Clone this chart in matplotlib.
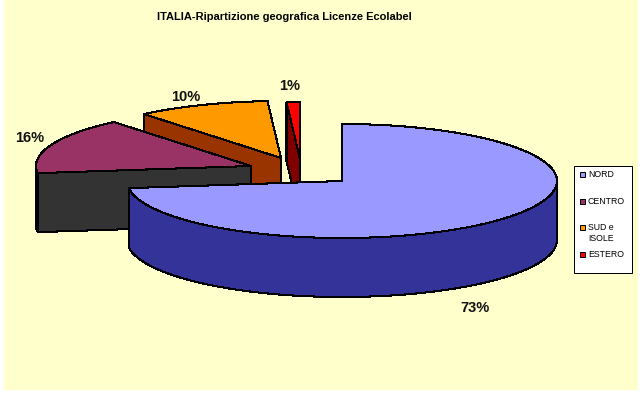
import numpy as np
import matplotlib
matplotlib.use("Agg")
import matplotlib.pyplot as plt
from matplotlib.patches import Polygon, Rectangle

plt.rcParams["font.family"] = ["Liberation Sans", "DejaVu Sans"]

categorie = ["NORD", "CENTRO", "SUD e\nISOLE", "ESTERO"]
valori = [73, 16, 10, 1]
etichette = ["73%", "16%", "10%", "1%"]
colori = ["#9999FF", "#993366", "#FF9900", "#FF0000"]
colori_lato = ["#333399", "#333333", "#993300", "#800000"]

W, H = 643, 395
RX, RY, DEPTH = 215, 57, 59
# centro di ogni fetta (torta esplosa), in pixel
centri = [(342, 181), (251, 166), (281, 158), (300, 159)]
pos_etichette = [(475, 308), (30, 138), (186, 97), (290, 86)]
# legenda: riga superiore di ogni voce, in pixel
righe_legenda = [172, 199, 225, 252]


def bordo(cx, cy, gradi):
    a = np.radians(gradi)
    return cx + RX * np.sin(a), cy - RY * np.cos(a)


def arco(cx, cy, a0, a1):
    t = np.linspace(a0, a1, 120)
    return np.column_stack(bordo(cx, cy, t))


fig = plt.figure(figsize=(W / 100, H / 100), dpi=100, facecolor="white")
ax = fig.add_axes([0, 0, 1, 1])
ax.set_xlim(0, W)
ax.set_ylim(H, 0)
ax.axis("off")
ax.add_patch(Rectangle((4, 0), 634, 390, facecolor="#FFFFCC", edgecolor="none"))

ax.text(284, 17.5, "ITALIA-Ripartizione geografica Licenze Ecolabel", ha="center", va="center",
        fontsize=8.0, fontweight="bold", color="black")

fine = np.cumsum(valori) * 3.6
inizio = fine - np.array(valori) * 3.6


def poligono(punti, colore, z):
    ax.add_patch(Polygon(punti, closed=True, facecolor=colore, edgecolor="black",
                         linewidth=0.75, joinstyle="round", antialiased=False, zorder=z))


# dal fondo verso il davanti: estero, sud, centro, nord
for i in range(len(valori) - 1, -1, -1):
    cx, cy = centri[i]
    z = 10 + (len(valori) - i) * 3
    # faccia radiale iniziale
    rx, ry = bordo(cx, cy, inizio[i])
    poligono([(cx, cy), (rx, ry), (rx, ry + DEPTH), (cx, cy + DEPTH)], colori_lato[i], z)
    # parte esterna visibile (solo davanti)
    a0, a1 = max(inizio[i], 90), min(fine[i], 270)
    if a1 > a0:
        sopra = arco(cx, cy, a0, a1)
        sotto = sopra[::-1] + [0, DEPTH]
        poligono(np.vstack([sopra, sotto]), colori_lato[i], z + 1)
    # faccia superiore
    poligono(np.vstack([[(cx, cy)], arco(cx, cy, inizio[i], fine[i])]), colori[i], z + 2)

for testo, (x, y) in zip(etichette, pos_etichette):
    ax.text(x, y, testo, ha="center", va="center", fontsize=10.5, fontweight="bold",
            color="#111111", zorder=30)

# legenda disegnata a mano: le righe non sono equidistanti
ax.add_patch(Rectangle((574, 166), 58, 107, facecolor="white", edgecolor="black",
                       linewidth=0.72, zorder=40))
for nome, colore, y in zip(categorie, colori, righe_legenda):
    ax.add_patch(Rectangle((580, y), 5, 5, facecolor=colore, edgecolor="black",
                           linewidth=0.72, zorder=41))
    ax.text(588, y - 2, nome, ha="left", va="top", fontsize=6.3, color="black",
            linespacing=1.25, zorder=41)

fig.savefig("out.png", dpi=100)
